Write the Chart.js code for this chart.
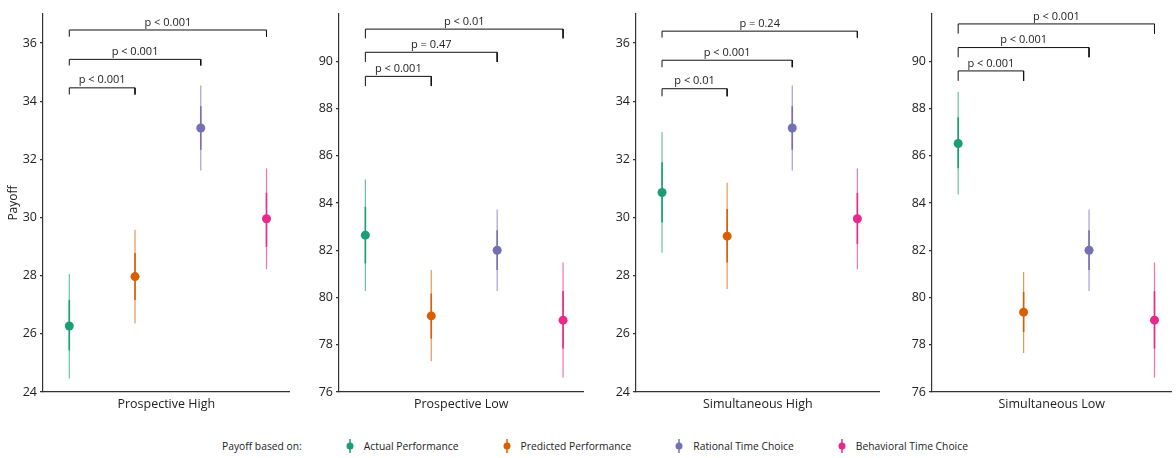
<!DOCTYPE html>
<html>
<head>
  <meta charset="UTF-8">
  <style>
    body { margin: 0; background: #fff; width: 1176px; height: 458px; position: relative; overflow: hidden;
           font-family: "Open Sans", sans-serif; color: #222; }
    .panel { position: absolute; top: 0; height: 420px; }
    #legend { position: absolute; top: 439px; left: 222px; display: flex; align-items: center; font-size: 10.3px; white-space: nowrap; }
    #legend .item { display: flex; align-items: center; margin-left: 44px; }
    #legend .item:first-of-type { margin-left: 38px; }
    #legend svg { margin-right: 10px; }
  </style>
</head>
<body>
  <div class="panel" id="p0"><canvas id="c0"></canvas></div>
  <div class="panel" id="p1"><canvas id="c1"></canvas></div>
  <div class="panel" id="p2"><canvas id="c2"></canvas></div>
  <div class="panel" id="p3"><canvas id="c3"></canvas></div>
  <div id="legend"></div>

  <script src="https://cdn.jsdelivr.net/npm/chart.js"></script>
  <script>
    // series (colour groups) and panels
    const seriesNames = ['Actual Performance', 'Predicted Performance', 'Rational Time Choice', 'Behavioral Time Choice'];
    const seriesColors = ['#1B9E77', '#D95F02', '#7570B3', '#E7298A'];
    const panelNames = ['Prospective High', 'Prospective Low', 'Simultaneous High', 'Simultaneous Low'];

    // one row per panel, one value per series
    const meanPayoff = [
      [26.27, 27.97, 33.08, 29.96],
      [82.64, 79.22, 82.00, 79.04],
      [30.86, 29.36, 33.08, 29.96],
      [86.52, 79.38, 82.00, 79.04]
    ];
    const outerLow = [
      [24.46, 26.36, 31.62, 28.22],
      [80.28, 77.30, 80.28, 76.61],
      [28.79, 27.54, 31.62, 28.22],
      [84.36, 77.65, 80.28, 76.61]
    ];
    const outerHigh = [
      [28.06, 29.58, 34.54, 31.69],
      [85.00, 81.16, 83.73, 81.48],
      [32.93, 31.20, 34.54, 31.69],
      [88.71, 81.08, 83.73, 81.48]
    ];
    const innerLow = [
      [25.43, 27.16, 32.33, 28.99],
      [81.44, 78.26, 81.16, 77.84],
      [29.83, 28.45, 32.33, 29.09],
      [85.47, 78.54, 81.16, 77.84]
    ];
    const innerHigh = [
      [27.16, 28.78, 33.83, 30.85],
      [83.84, 80.17, 82.85, 80.27],
      [31.90, 30.29, 33.83, 30.85],
      [87.63, 80.24, 82.85, 80.27]
    ];

    // significance brackets: all start at series 1
    const bracketEnd = [2, 3, 4];
    const bracketTop = [
      [34.46, 35.44, 36.45],
      [89.36, 90.38, 91.36],
      [34.43, 35.41, 36.41],
      [89.59, 90.58, 91.58]
    ];
    const bracketTip = [
      [34.23, 35.23, 36.22],
      [88.95, 89.97, 90.97],
      [34.17, 35.17, 36.19],
      [89.17, 90.17, 91.17]
    ];
    const pLabels = [
      ['p < 0.001', 'p < 0.001', 'p < 0.001'],
      ['p < 0.001', 'p = 0.47', 'p < 0.01'],
      ['p < 0.01', 'p < 0.001', 'p = 0.24'],
      ['p < 0.001', 'p < 0.001', 'p < 0.001']
    ];

    const yMin = [24, 76, 24, 76];
    const yMax = [37, 92, 37, 92];
    const yTicks = [[24, 26, 28, 30, 32, 34, 36], [76, 78, 80, 82, 84, 86, 88, 90],
                    [24, 26, 28, 30, 32, 34, 36], [76, 78, 80, 82, 84, 86, 88, 90]];

    // panel layout (pixels)
    const panelLeft = [0, 294, 588, 884];
    const panelWidth = [294, 294, 296, 292];
    const axisWidth = [43, 45, 48, 48];
    const xMaxView = [4.35, 4.31, 4.34, 4.26];

    const FONT = '"Open Sans", sans-serif';
    const AXIS = '#333';

    // draws the pointrange intervals under the points
    const intervalPlugin = {
      id: 'intervals',
      beforeDatasetsDraw(chart) {
        const ctx = chart.ctx, xs = chart.scales.x, ys = chart.scales.y;
        chart.data.datasets.forEach((ds, i) => {
          if (ds.type !== 'scatter') return;
          ds.data.forEach(d => {
            const px = xs.getPixelForValue(d.x);
            ctx.save();
            ctx.strokeStyle = ds.backgroundColor;
            ctx.globalAlpha = 0.65;
            ctx.lineWidth = 1.2;
            ctx.beginPath();
            ctx.moveTo(px, ys.getPixelForValue(d.lo));
            ctx.lineTo(px, ys.getPixelForValue(d.hi));
            ctx.stroke();
            ctx.globalAlpha = 1;
            ctx.lineWidth = 1.6;
            ctx.beginPath();
            ctx.moveTo(px, ys.getPixelForValue(d.lo2));
            ctx.lineTo(px, ys.getPixelForValue(d.hi2));
            ctx.stroke();
            ctx.restore();
          });
        });
      }
    };

    // p-value labels above brackets
    const pLabelPlugin = {
      id: 'plabels',
      afterDatasetsDraw(chart) {
        const ctx = chart.ctx, xs = chart.scales.x, ys = chart.scales.y;
        const p = chart.options.plugins.plabels.panel;
        ctx.save();
        ctx.font = '11px ' + FONT;
        ctx.fillStyle = '#222';
        ctx.textAlign = 'center';
        ctx.textBaseline = 'bottom';
        bracketEnd.forEach((e, k) => {
          const px = xs.getPixelForValue((1 + e) / 2);
          const py = ys.getPixelForValue(bracketTop[p][k]);
          ctx.fillText(pLabels[p][k], px, py - 2);
        });
        ctx.restore();
      }
    };

    function makePanel(p) {
      const div = document.getElementById('p' + p);
      div.style.left = panelLeft[p] + 'px';
      div.style.width = panelWidth[p] + 'px';

      const datasets = [];
      seriesNames.forEach((name, i) => {
        datasets.push({
          type: 'scatter',
          label: name,
          data: [{ x: i + 1, y: meanPayoff[p][i], lo: outerLow[p][i], hi: outerHigh[p][i],
                   lo2: innerLow[p][i], hi2: innerHigh[p][i] }],
          backgroundColor: seriesColors[i],
          borderColor: seriesColors[i],
          pointRadius: 4.5,
          pointBorderWidth: 0
        });
      });
      bracketEnd.forEach((e, k) => {
        datasets.push({
          type: 'line',
          label: 'bracket' + k,
          data: [{ x: 1, y: bracketTip[p][k] }, { x: 1, y: bracketTop[p][k] },
                 { x: e, y: bracketTop[p][k] }, { x: e, y: bracketTip[p][k] }],
          borderColor: '#111',
          borderWidth: 1,
          pointRadius: 0,
          fill: false,
          tension: 0
        });
      });

      return new Chart(document.getElementById('c' + p), {
        type: 'scatter',
        data: { datasets: datasets },
        plugins: [intervalPlugin, pLabelPlugin],
        options: {
          responsive: true,
          maintainAspectRatio: false,
          animation: false,
          layout: { padding: { top: 14, right: 1, bottom: 0, left: 0 } },
          plugins: {
            legend: { display: false },
            tooltip: { enabled: false },
            plabels: { panel: p }
          },
          scales: {
            x: {
              type: 'linear',
              min: 0.6,
              max: xMaxView[p],
              grid: { display: false, drawTicks: false },
              border: { display: true, color: AXIS, width: 1.2 },
              ticks: { display: false },
              title: {
                display: true,
                text: panelNames[p],
                color: '#222',
                font: { family: FONT, size: 12.5 },
                padding: { top: 0, bottom: 8.5 }
              },
              afterFit: s => { s.height = 28; }
            },
            y: {
              min: yMin[p],
              max: yMax[p],
              afterBuildTicks: s => { s.ticks = yTicks[p].map(v => ({ value: v })); },
              grid: { display: true, drawOnChartArea: false, drawTicks: true, tickLength: 3, color: AXIS, lineWidth: 1.2 },
              border: { display: true, color: AXIS, width: 1.2 },
              ticks: { color: '#222', padding: 3, font: { family: FONT, size: 12.5 } },
              title: {
                display: p === 0,
                text: 'Payoff',
                color: '#222',
                font: { family: FONT, size: 12 },
                padding: { top: 6.5, bottom: 0 }
              },
              afterFit: s => { s.width = axisWidth[p]; }
            }
          }
        }
      });
    }

    for (let p = 0; p < panelNames.length; p++) makePanel(p);

    // shared legend
    const legendEl = document.getElementById('legend');
    let html = '<span>Payoff based on:</span>';
    seriesNames.forEach((name, i) => {
      const c = seriesColors[i];
      html += '<span class="item"><svg width="8" height="14">' +
        '<line x1="4" y1="0" x2="4" y2="14" stroke="' + c + '" stroke-width="1.5"/>' +
        '<circle cx="4" cy="7" r="3.5" fill="' + c + '"/></svg>' + name + '</span>';
    });
    legendEl.innerHTML = html;
  </script>
</body>
</html>
